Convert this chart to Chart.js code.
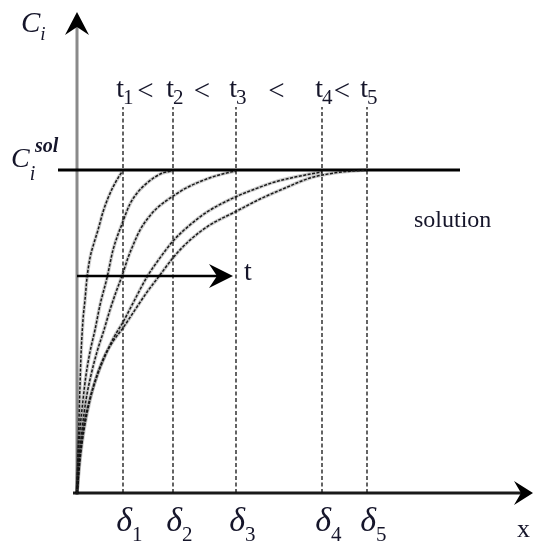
<!DOCTYPE html>
<html>
<head>
<meta charset="utf-8">
<script src="https://cdn.jsdelivr.net/npm/chart.js@4.4.1/dist/chart.umd.min.js"></script>
<style>
html, body { margin: 0; padding: 0; background: #fff; }
#wrap { width: 533px; height: 548px; }
</style>
</head>
<body>
<div id="wrap"><canvas id="chart" width="533" height="548"></canvas></div>
<script>
// concentration profiles C/C_i^sol against depth x, one per time t1..t5
const curve1X = [0, 0.1, 0.2, 0.3, 0.4, 0.6, 0.8, 1.0, 1.3, 1.7, 2.1, 2.6, 3.1, 3.6, 4.1, 4.5];
const curve1Y = [0, 0.118, 0.226, 0.334, 0.427, 0.536, 0.598, 0.666, 0.728, 0.774, 0.814, 0.870, 0.913, 0.947, 0.975, 0.994];
const curve2X = [0, 0.1, 0.3, 0.6, 0.9, 1.3, 1.8, 2.3, 3.0, 3.6, 4.5, 5.3, 6.1, 6.9, 7.8, 8.6, 9.5];
const curve2Y = [0, 0.102, 0.195, 0.288, 0.365, 0.437, 0.505, 0.582, 0.666, 0.752, 0.833, 0.895, 0.932, 0.957, 0.978, 0.991, 0.997];
const curve3X = [0, 0.2, 0.5, 0.9, 1.4, 2.0, 2.7, 3.3, 3.9, 4.5, 5.1, 5.7, 6.3, 7.1, 8.0, 8.9, 9.8, 10.9, 12.0, 13.5, 15.0, 15.9];
const curve3Y = [0, 0.102, 0.195, 0.288, 0.365, 0.437, 0.505, 0.567, 0.622, 0.672, 0.728, 0.774, 0.814, 0.851, 0.882, 0.904, 0.923, 0.944, 0.960, 0.978, 0.991, 0.997];
const curve4X = [0, 0.3, 0.7, 1.3, 2.0, 2.8, 3.7, 4.6, 5.6, 7.0, 8.3, 9.6, 11.3, 13.0, 15.8, 17.8, 19.8, 21.8, 24.5];
const curve4Y = [0, 0.118, 0.211, 0.294, 0.362, 0.424, 0.483, 0.529, 0.588, 0.669, 0.728, 0.780, 0.830, 0.870, 0.916, 0.941, 0.963, 0.978, 0.994];
const curve5X = [0, 0.3, 0.7, 1.3, 2.0, 2.8, 3.7, 4.6, 5.8, 7.0, 8.3, 9.6, 11.3, 13.3, 15.8, 18.3, 20.8, 23.3, 25.8, 29.0];
const curve5Y = [0, 0.102, 0.195, 0.288, 0.365, 0.427, 0.474, 0.511, 0.567, 0.622, 0.675, 0.728, 0.783, 0.830, 0.870, 0.910, 0.944, 0.975, 0.991, 1.0];

// penetration depths delta_1..delta_5 and the saturation level
const deltas = [4.6, 9.6, 15.9, 24.5, 29.0];
const indexLabels = ['1', '2', '3', '4', '5'];
const cSol = 1;

const xMin = -7.7, xMax = 45.6;
const yMin = -0.170, yMax = 1.526;
const dashTop = 1.195;   // top of the dotted delta lines
const solLine = [-1.9, 38.3];
const tArrow = { y: 0.672, x1: 15.6 };
const yAxisTip = 1.489, xAxisTip = 45.6;

const profiles = [
  [curve1X, curve1Y], [curve2X, curve2Y], [curve3X, curve3Y], [curve4X, curve4Y], [curve5X, curve5Y]
];
const pts = (xs, ys) => xs.map((v, i) => ({ x: v, y: ys[i] }));

const datasets = [];
profiles.forEach(p => {
  datasets.push({
    data: pts(p[0], p[1]),
    borderColor: 'rgba(0,0,0,0.2)', borderWidth: 3.5,
    pointRadius: 0, cubicInterpolationMode: 'monotone'
  });
  datasets.push({
    data: pts(p[0], p[1]),
    borderColor: '#1e1e1e', borderWidth: 1.5, borderDash: [3, 1.5],
    pointRadius: 0, cubicInterpolationMode: 'monotone'
  });
});
deltas.forEach(d => {
  datasets.push({
    data: [{ x: d, y: 0 }, { x: d, y: dashTop }],
    borderColor: '#111', borderWidth: 1.3, borderDash: [4, 2.5], pointRadius: 0
  });
});
datasets.push({
  data: [{ x: solLine[0], y: cSol }, { x: solLine[1], y: cSol }],
  borderColor: '#000', borderWidth: 3, pointRadius: 0
});

function head(ctx, tx, ty, dx, dy, len, half, notch) {
  // stealth arrow head pointing along (dx, dy)
  const nx = -dy, ny = dx;
  ctx.beginPath();
  ctx.moveTo(tx, ty);
  ctx.lineTo(tx - dx * len + nx * half, ty - dy * len + ny * half);
  ctx.lineTo(tx - dx * notch, ty - dy * notch);
  ctx.lineTo(tx - dx * len - nx * half, ty - dy * len - ny * half);
  ctx.closePath();
  ctx.fill();
}

function sub(ctx, base, baseFont, s, subFont, x, y, dy) {
  ctx.font = baseFont;
  ctx.fillText(base, x, y);
  const w = ctx.measureText(base).width;
  ctx.font = subFont;
  ctx.fillText(s, x + w, y + dy);
}

const sketch = {
  id: 'sketch',
  beforeDatasetsDraw(chart) {
    const { ctx, scales: { x, y } } = chart;
    const x0 = x.getPixelForValue(0), y0 = y.getPixelForValue(0);
    ctx.save();
    ctx.strokeStyle = '#8a8a8a';
    ctx.lineWidth = 3;
    ctx.beginPath();
    ctx.moveTo(x0, y0 + 2);
    ctx.lineTo(x0, y.getPixelForValue(yAxisTip) + 14);
    ctx.stroke();
    ctx.strokeStyle = '#1a1a1a';
    ctx.beginPath();
    ctx.moveTo(x0 - 4, y0);
    ctx.lineTo(x.getPixelForValue(xAxisTip) - 10, y0);
    ctx.stroke();
    ctx.fillStyle = '#000';
    head(ctx, x0, y.getPixelForValue(yAxisTip), 0, -1, 23, 12, 15);
    head(ctx, x.getPixelForValue(xAxisTip), y0, 1, 0, 19, 12, 12);
    ctx.restore();
  },
  afterDatasetsDraw(chart) {
    const { ctx, scales: { x, y } } = chart;
    const x0 = x.getPixelForValue(0);
    ctx.save();
    // time arrow
    const ay = y.getPixelForValue(tArrow.y), ax = x.getPixelForValue(tArrow.x1);
    ctx.strokeStyle = '#000';
    ctx.lineWidth = 2.5;
    ctx.beginPath();
    ctx.moveTo(x0, ay);
    ctx.lineTo(ax - 14, ay);
    ctx.stroke();
    ctx.fillStyle = '#000';
    head(ctx, ax, ay, 1, 0, 24, 12, 16);

    ctx.fillStyle = '#15152a';
    ctx.textBaseline = 'alphabetic';
    ctx.textAlign = 'left';
    const serif = '"Liberation Serif", "Times New Roman", serif';
    ctx.font = '28px ' + serif;
    ctx.fillText('t', ax + 11, ay + 4);

    // t1 < t2 < ... labels above the dotted lines
    const tBase = y.getPixelForValue(dashTop) - 10;
    deltas.forEach((d, i) => {
      const px = x.getPixelForValue(d);
      ctx.font = '28px ' + serif;
      const tw = ctx.measureText('t').width;
      ctx.fillText('t', px - tw + 1, tBase);
      ctx.font = '21px ' + serif;
      ctx.fillText(indexLabels[i], px, tBase + 7);
    });
    ctx.font = '29px ' + serif;
    ctx.textAlign = 'center';
    for (let i = 0; i < deltas.length - 1; i++) {
      const a = x.getPixelForValue(deltas[i]), b = x.getPixelForValue(deltas[i + 1]);
      ctx.fillText('<', (a + b) / 2 - 2.5, tBase + 3);
    }

    // delta labels under the axis
    ctx.textAlign = 'left';
    const dBase = y.getPixelForValue(0) + 38;
    deltas.forEach((d, i) => {
      const px = x.getPixelForValue(d);
      ctx.font = 'italic 34px ' + serif;
      const dw = ctx.measureText('\u03b4').width;
      ctx.fillText('\u03b4', px + 9 - dw, dBase);
      ctx.font = '21px ' + serif;
      ctx.fillText(indexLabels[i], px + 9, dBase + 10);
    });

    // axis names
    sub(ctx, 'C', 'italic 29px ' + serif, 'i', 'italic 19px ' + serif, 21, 32, 8);
    ctx.font = '26px ' + serif;
    ctx.fillText('x', 517, 537);

    // saturation label
    const sy = y.getPixelForValue(cSol);
    sub(ctx, 'C', 'italic 28px ' + serif, 'i', 'italic 20px ' + serif, 11, sy - 3, 13);
    ctx.font = 'italic bold 20px ' + serif;
    ctx.fillText('sol', 35, sy - 18);
    ctx.font = '24px ' + serif;
    ctx.fillText('solution', 414, sy + 57);
    ctx.restore();
  }
};

new Chart(document.getElementById('chart'), {
  type: 'line',
  data: { datasets },
  options: {
    responsive: false,
    animation: false,
    layout: { padding: 0 },
    plugins: { legend: { display: false }, tooltip: { enabled: false } },
    scales: {
      x: { type: 'linear', display: false, min: xMin, max: xMax },
      y: { type: 'linear', display: false, min: yMin, max: yMax }
    }
  },
  plugins: [sketch]
});
</script>
</body>
</html>
